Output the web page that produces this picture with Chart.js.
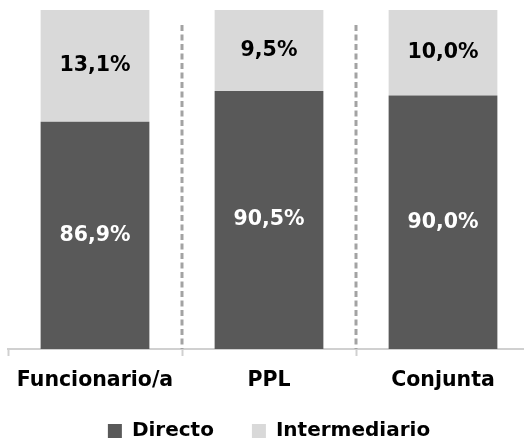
<!DOCTYPE html>
<html>
<head>
<meta charset="utf-8">
<script src="https://cdn.jsdelivr.net/npm/chart.js@4"></script>
<style>
  html, body { margin: 0; padding: 0; background: #ffffff; overflow: hidden; }
  #wrap { width: 524px; height: 441px; overflow: hidden; }
</style>
</head>
<body>
<div id="wrap"><canvas id="c" width="534" height="451"></canvas></div>
<script>
const categories = ['Funcionario/a', 'PPL', 'Conjunta'];
const directo = [86.9, 90.5, 90.0];
const intermediario = [13.1, 9.5, 10.0];
const seriesNames = ['Directo', 'Intermediario'];

const FONT = '"DejaVu Sans", "Liberation Sans", Arial, sans-serif';

const dashedDividers = {
  id: 'dashedDividers',
  beforeDatasetsDraw(chart) {
    const x = chart.scales.x;
    const area = chart.chartArea;
    const ctx = chart.ctx;
    ctx.save();
    ctx.strokeStyle = '#a3a3a3';
    ctx.lineWidth = 3;
    ctx.setLineDash([6, 3.5]);
    for (let i = 0; i < categories.length - 1; i++) {
      const px = (x.getPixelForValue(i) + x.getPixelForValue(i + 1)) / 2;
      ctx.beginPath();
      ctx.moveTo(px, area.top + 15);
      ctx.lineTo(px, area.bottom);
      ctx.stroke();
    }
    ctx.restore();
  }
};

const barLabels = {
  id: 'barLabels',
  afterDatasetsDraw(chart) {
    const ctx = chart.ctx;
    const area = chart.chartArea;
    ctx.save();
    ctx.font = 'bold 20.5px ' + FONT;
    ctx.textAlign = 'center';
    ctx.textBaseline = 'middle';
    chart.data.datasets.forEach((ds, di) => {
      const meta = chart.getDatasetMeta(di);
      meta.data.forEach((el, i) => {
        const v = ds.data[i];
        const txt = v.toFixed(1).replace('.', ',') + '%';
        const top = Math.max(Math.min(el.y, el.base), area.top);
        const bottom = Math.min(Math.max(el.y, el.base), area.bottom);
        const y = (top + bottom) / 2;
        ctx.fillStyle = di === 0 ? '#ffffff' : '#000000';
        ctx.fillText(txt, el.x, y);
      });
    });
    ctx.restore();
  }
};

new Chart(document.getElementById('c'), {
  type: 'bar',
  data: {
    labels: categories,
    datasets: [
      { label: seriesNames[0], data: directo, backgroundColor: '#595959', borderWidth: 0 },
      { label: seriesNames[1], data: intermediario, backgroundColor: '#d9d9d9', borderWidth: 0 }
    ]
  },
  options: {
    responsive: false,
    animation: false,
    devicePixelRatio: 1,
    layout: { padding: { left: 8, right: 4, top: 10, bottom: 0 } },
    datasets: { bar: { barPercentage: 0.625, categoryPercentage: 1 } },
    scales: {
      x: {
        stacked: true,
        afterFit(scale) { scale.height = 44; },
        grid: {
          display: true,
          drawOnChartArea: false,
          drawTicks: true,
          tickLength: 7,
          tickColor: '#d0d0d0',
          tickWidth: 2,
          offset: true
        },
        border: { display: true, color: '#d0d0d0', width: 2 },
        ticks: {
          color: '#000000',
          padding: 12,
          font: { family: FONT, size: 20.5, weight: 'bold' }
        }
      },
      y: {
        stacked: true,
        display: false,
        min: 60.3,
        max: 100
      }
    },
    plugins: {
      legend: {
        position: 'bottom',
        labels: {
          boxWidth: 14,
          boxHeight: 14,
          padding: 28,
          color: '#000000',
          font: { family: FONT, size: 20, weight: 'bold' },
          generateLabels(chart) {
            const items = Chart.defaults.plugins.legend.labels.generateLabels(chart);
            items.forEach((it, i) => {
              it.lineWidth = 0;
              if (i < items.length - 1) it.text = it.text + '\u2002';
            });
            return items;
          }
        }
      },
      tooltip: { enabled: false }
    }
  },
  plugins: [dashedDividers, barLabels]
});
</script>
</body>
</html>
